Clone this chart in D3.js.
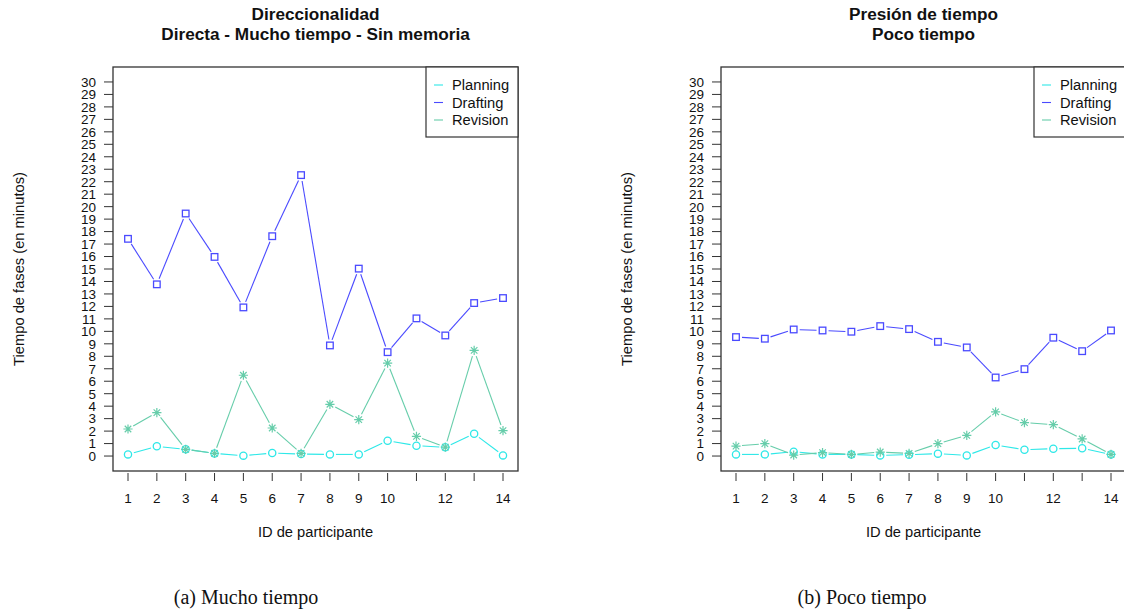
<!DOCTYPE html>
<html>
<head>
<meta charset="utf-8">
<script src="https://cdn.jsdelivr.net/npm/d3@7"></script>
<style>
  html, body { margin: 0; padding: 0; background: #fff; }
  svg { display: block; }
</style>
</head>
<body>
<svg id="chart" width="1124" height="614"></svg>
<script>
// ---- Data ----
const participants = [1,2,3,4,5,6,7,8,9,10,11,12,13,14];
const xTickLabels = ["1","2","3","4","5","6","7","8","9","10","","12","","14"];
const yTicks = d3.range(0, 31);
const seriesNames = ["Planning", "Drafting", "Revision"];

// Panel (a): Mucho tiempo
const planningA = [0.13,0.78,0.54,0.21,0.03,0.24,0.16,0.13,0.13,1.23,0.83,0.70,1.79,0.05];
const draftingA = [17.42,13.77,19.45,15.97,11.92,17.63,22.53,8.87,15.03,8.33,11.04,9.67,12.27,12.67];
const revisionA = [2.17,3.48,0.54,0.21,6.48,2.25,0.21,4.15,2.92,7.45,1.58,0.72,8.47,2.04];

// Panel (b): Poco tiempo
const planningB = [0.13,0.13,0.35,0.13,0.13,0.05,0.11,0.19,0.05,0.88,0.51,0.59,0.62,0.13];
const draftingB = [9.54,9.41,10.15,10.07,9.97,10.42,10.18,9.16,8.71,6.30,6.97,9.49,8.41,10.07];
const revisionB = [0.80,0.99,0.08,0.27,0.13,0.32,0.21,0.99,1.66,3.54,2.68,2.52,1.37,0.13];

const titlesA = ["Direccionalidad", "Directa - Mucho tiempo - Sin memoria"];
const titlesB = ["Presión de tiempo", "Poco tiempo"];
const captionA = "(a) Mucho tiempo";
const captionB = "(b) Poco tiempo";
const yLabel = "Tiempo de fases (en minutos)";
const xLabel = "ID de participante";

// ---- Styles ----
const colors = { Planning: "#2ee8e8", Drafting: "#4a4aff", Revision: "#66cdaa" };
const symbols = { Planning: "circle", Drafting: "square", Revision: "asterisk" };
const SANS = "'Liberation Sans', Arial, Helvetica, sans-serif";
const SERIF = "'Liberation Serif', 'Times New Roman', serif";

const svg = d3.select("#chart");
const W = 405, H = 404;

function drawPanel(left, top, titles, caption, captionX, dataMap) {
  const g = svg.append("g").attr("transform", `translate(${left},${top})`);
  const x = d3.scaleLinear().domain([1 - 0.52, 14 + 0.52]).range([0, W]);
  const y = d3.scaleLinear().domain([-1.2, 31.2]).range([H, 0]);

  // titles
  titles.forEach((t, i) => {
    g.append("text").attr("x", W / 2).attr("y", -47 + i * 20)
      .attr("text-anchor", "middle").attr("font-family", SANS)
      .attr("font-weight", "bold").attr("font-size", 17.2).attr("fill", "#111").text(t);
  });

  // y axis ticks
  yTicks.forEach(v => {
    g.append("line").attr("x1", -9).attr("x2", 0).attr("y1", y(v)).attr("y2", y(v))
      .attr("stroke", "#333").attr("stroke-width", 1);
    g.append("text").attr("x", -17).attr("y", y(v)).attr("dy", "0.36em")
      .attr("text-anchor", "end").attr("font-family", SANS).attr("font-size", 13.5)
      .attr("fill", "#111").text(v);
  });

  // x axis ticks
  participants.forEach((p, i) => {
    g.append("line").attr("x1", x(p)).attr("x2", x(p)).attr("y1", H + 2).attr("y2", H + 10)
      .attr("stroke", "#333").attr("stroke-width", 1);
    if (xTickLabels[i]) {
      g.append("text").attr("x", x(p)).attr("y", H + 32)
        .attr("text-anchor", "middle").attr("font-family", SANS).attr("font-size", 13.5)
        .attr("fill", "#111").text(xTickLabels[i]);
    }
  });

  // axis labels
  g.append("text").attr("x", W / 2).attr("y", H + 66).attr("text-anchor", "middle")
    .attr("font-family", SANS).attr("font-size", 14.7).attr("fill", "#111").text(xLabel);
  g.append("text").attr("transform", `translate(${-89},${H / 2}) rotate(-90)`)
    .attr("text-anchor", "middle").attr("font-family", SANS).attr("font-size", 14.7)
    .attr("fill", "#111").text(yLabel);

  // series (type "b": points with gapped lines)
  const gap = 6;
  seriesNames.forEach(name => {
    const vals = dataMap[name];
    const pts = participants.map((p, i) => [x(p), y(vals[i])]);
    const col = colors[name];
    for (let i = 0; i < pts.length - 1; i++) {
      const [x1, y1] = pts[i], [x2, y2] = pts[i + 1];
      const dx = x2 - x1, dy = y2 - y1, len = Math.hypot(dx, dy);
      if (len <= 2 * gap) continue;
      const ux = dx / len, uy = dy / len;
      g.append("line")
        .attr("x1", x1 + ux * gap).attr("y1", y1 + uy * gap)
        .attr("x2", x2 - ux * gap).attr("y2", y2 - uy * gap)
        .attr("stroke", col).attr("stroke-width", 1.1);
    }
    pts.forEach(([px, py]) => {
      const s = symbols[name];
      if (s === "circle") {
        g.append("circle").attr("cx", px).attr("cy", py).attr("r", 3.6)
          .attr("fill", "none").attr("stroke", col).attr("stroke-width", 1.3);
      } else if (s === "square") {
        g.append("rect").attr("x", px - 3.3).attr("y", py - 3.3).attr("width", 6.6).attr("height", 6.6)
          .attr("fill", "none").attr("stroke", col).attr("stroke-width", 1.3);
      } else {
        const r = 4.6, d = r * 0.707;
        const pathStr = `M${px - r},${py}L${px + r},${py}M${px},${py - r}L${px},${py + r}` +
          `M${px - d},${py - d}L${px + d},${py + d}M${px - d},${py + d}L${px + d},${py - d}`;
        g.append("path").attr("d", pathStr).attr("stroke", col).attr("stroke-width", 1.2).attr("fill", "none");
      }
    });
  });

  // plot box
  g.append("rect").attr("x", 0).attr("y", 0).attr("width", W).attr("height", H)
    .attr("fill", "none").attr("stroke", "#333").attr("stroke-width", 1.3);

  // legend
  const lg = g.append("g").attr("transform", `translate(${W - 92},0)`);
  lg.append("rect").attr("x", 0).attr("y", 0).attr("width", 92).attr("height", 70)
    .attr("fill", "#fff").attr("stroke", "#333").attr("stroke-width", 1.2);
  seriesNames.forEach((name, i) => {
    const cy = 18 + i * 17.5;
    lg.append("line").attr("x1", 8).attr("x2", 17).attr("y1", cy).attr("y2", cy)
      .attr("stroke", colors[name]).attr("stroke-width", 1.1);
    lg.append("text").attr("x", 26).attr("y", cy).attr("dy", "0.36em")
      .attr("font-family", SANS).attr("font-size", 14.7).attr("fill", "#111").text(name);
  });

  // caption
  svg.append("text").attr("x", captionX).attr("y", 604).attr("text-anchor", "middle")
    .attr("font-family", SERIF).attr("font-size", 20).attr("fill", "#111").text(caption);
}

drawPanel(113, 67, titlesA, captionA, 246,
  { Planning: planningA, Drafting: draftingA, Revision: revisionA });
drawPanel(721, 67, titlesB, captionB, 862,
  { Planning: planningB, Drafting: draftingB, Revision: revisionB });
</script>
</body>
</html>
